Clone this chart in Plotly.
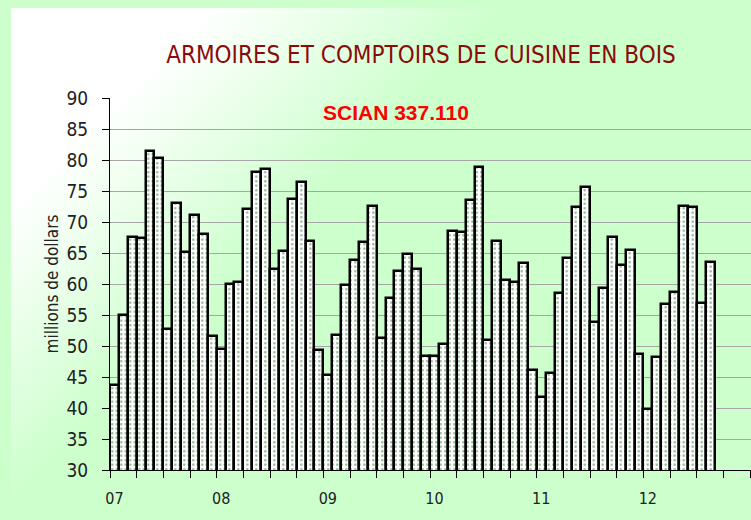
import base64
import plotly.graph_objects as go

# ---- data ----
year_labels = ["07", "08", "09", "10", "11", "12"]
monthly_values = [
    43.7, 55.0, 67.6, 67.5, 81.5, 80.3, 52.8, 73.0, 65.2, 71.2, 68.1, 51.6,
    49.5, 60.0, 60.4, 72.1, 78.0, 78.5, 62.4, 65.4, 73.7, 76.4, 67.0, 49.4,
    45.3, 51.7, 59.9, 63.8, 66.8, 72.6, 51.3, 57.7, 62.1, 64.9, 62.5, 48.4,
    48.4, 50.3, 68.5, 68.4, 73.6, 78.8, 51.0, 66.9, 60.6, 60.4, 63.4, 46.1,
    41.7, 45.6, 58.6, 64.2, 72.4, 75.6, 53.9, 59.3, 67.6, 63.1, 65.5, 48.7,
    39.8, 48.2, 56.7, 58.7, 72.6, 72.4, 56.9, 63.6,
]
title_text = "ARMOIRES ET COMPTOIRS DE CUISINE EN BOIS"
subtitle_text = "SCIAN 337.110"
y_title = "millions de dollars"

months = list(range(len(monthly_values)))
year_ticks = [12 * i for i in range(len(year_labels))]

W, H = 751, 520
L, R, T, B = 110, 0, 98, 50
plot_w = W - L - R
plot_h = H - T - B

NARROW = "Liberation Sans Narrow, Arial Narrow, DejaVu Sans Condensed, sans-serif"
GREEN = "#CCFFCC"

# background gradient (white top-left -> light green)
gw, gh = W - 11, H - 8
svg = (
    f'<svg xmlns="http://www.w3.org/2000/svg" width="{gw}" height="{gh}">'
    '<defs><linearGradient id="g" gradientUnits="userSpaceOnUse" x1="0" y1="0" x2="500" y2="500">'
    '<stop offset="0.2" stop-color="#FFFFFF"/>'
    f'<stop offset="0.5" stop-color="{GREEN}"/>'
    '</linearGradient></defs>'
    f'<rect width="{gw}" height="{gh}" fill="url(#g)"/></svg>'
)
src = "data:image/svg+xml;base64," + base64.b64encode(svg.encode()).decode()

fig = go.Figure()
fig.add_trace(go.Bar(
    x=months, y=monthly_values,
    marker=dict(
        color="white",
        line=dict(color="black", width=2.5),
        pattern=dict(shape=".", fgcolor="#2F6F2F", bgcolor="white", size=4.5, solidity=0.25),
    ),
    hoverinfo="skip",
))

fig.update_layout(
    width=W, height=H,
    margin=dict(l=L, r=R, t=T, b=B),
    paper_bgcolor=GREEN,
    plot_bgcolor="rgba(0,0,0,0)",
    bargap=0,
    showlegend=False,
    title=dict(
        text=title_text,
        x=421 / W, xanchor="center",
        y=1 - 55 / H, yanchor="middle",
        font=dict(family=NARROW, size=24, color="#8B0A0A"),
    ),
    images=[dict(
        source=src, xref="paper", yref="paper",
        x=(11 - L) / plot_w, y=(H - B - 8) / plot_h,
        sizex=gw / plot_w, sizey=gh / plot_h,
        sizing="stretch", xanchor="left", yanchor="top", layer="below",
    )],
    annotations=[dict(
        text=f"<b>{subtitle_text}</b>", xref="paper", yref="paper",
        x=(396 - L) / plot_w, y=(H - B - 113) / plot_h,
        xanchor="center", yanchor="middle", showarrow=False,
        font=dict(family="Liberation Sans, Arial, sans-serif", size=21, color="#FF0000"),
    )],
    xaxis=dict(
        range=[-0.5, 71.6],
        tickmode="array", tickvals=year_ticks, ticktext=year_labels,
        ticks="", ticklabelstandoff=14,
        tickfont=dict(family=NARROW, size=16, color="#222222"),
        showline=True, linecolor="black", linewidth=1,
        showgrid=False, zeroline=False,
        minor=dict(tickmode="linear", tick0=-0.5, dtick=3, ticks="outside",
                   ticklen=7, tickcolor="black", showgrid=False),
    ),
    yaxis=dict(
        range=[30, 90], dtick=5, tick0=30,
        ticks="outside", ticklen=7, tickcolor="black",
        ticklabelstandoff=10,
        tickfont=dict(family=NARROW, size=19, color="#222222"),
        showline=True, linecolor="black", linewidth=1,
        showgrid=True, gridcolor="#A6A6A6", gridwidth=1,
        zeroline=False,
        title=dict(text=y_title, standoff=3,
                   font=dict(family=NARROW, size=17, color="#222222")),
    ),
    yaxis2=dict(
        range=[30, 90], dtick=5, tick0=30, overlaying="y", side="left", anchor="x",
        ticks="inside", ticklen=7, tickcolor="black", showticklabels=False,
        showgrid=False, zeroline=False, showline=False,
    ),
)

fig.write_html(
    "out.html",
    config={"displayModeBar": False},
    post_script="document.body.style.margin='0';document.body.style.background='#CCFFCC';",
)
